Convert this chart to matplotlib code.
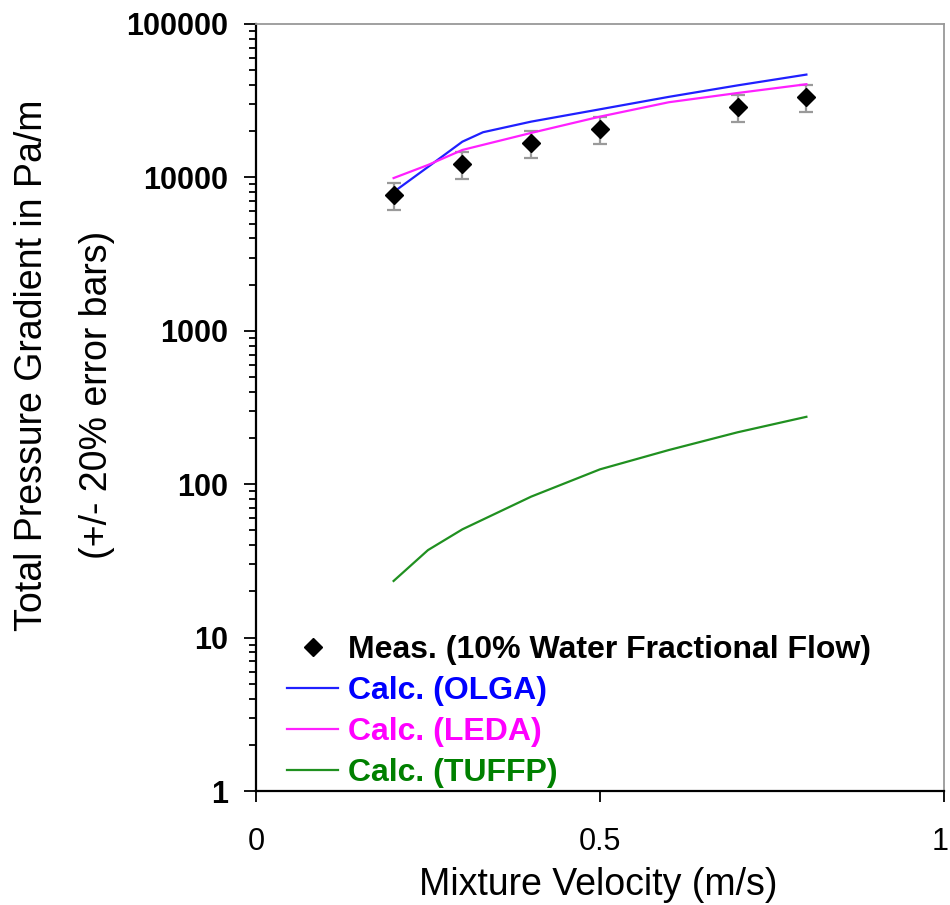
import matplotlib
matplotlib.use('Agg')
import matplotlib.pyplot as plt
import matplotlib.transforms as mtransforms
from matplotlib.ticker import LogLocator, FixedLocator, NullFormatter, FixedFormatter

plt.rcParams['font.family'] = ['Liberation Sans', 'DejaVu Sans']

# Measured data, 10% water fractional flow
v_meas = [0.2, 0.3, 0.4, 0.5, 0.7, 0.8]
dp_meas = [7680, 12200, 16800, 20700, 28900, 33600]

# Model predictions
v_olga = [0.2, 0.25, 0.3, 0.33, 0.4, 0.5, 0.6, 0.7, 0.8]
dp_olga = [8030, 11700, 17100, 19700, 23100, 27800, 33500, 39800, 46800]

v_leda = [0.2, 0.25, 0.3, 0.4, 0.5, 0.6, 0.7, 0.8]
dp_leda = [9900, 12050, 15100, 19500, 24900, 30900, 35500, 40500]

v_tuffp = [0.2, 0.25, 0.3, 0.4, 0.5, 0.6, 0.7, 0.8]
dp_tuffp = [23.4, 37.2, 50.8, 83, 125, 167, 218, 275]

xticks = [0, 0.5, 1]
xtick_labels = ['0', '0.5', '1']
yticks = [1, 10, 100, 1000, 10000, 100000]
ytick_labels = ['1', '10', '100', '1000', '10000', '100000']

W, H = 950, 905
fig = plt.figure(figsize=(W / 100, H / 100), dpi=100)
ax = fig.add_axes([256 / W, 1 - 791 / H, (944 - 256) / W, (791 - 24) / H])

err = [0.2 * d for d in dp_meas]
ax.errorbar(v_meas, dp_meas, yerr=err, fmt='none', ecolor='#9a9a9a',
            elinewidth=1.6, capsize=5, capthick=1.6, zorder=2)
ax.plot(v_meas, dp_meas, linestyle='none', marker='D', markersize=9.5,
        color='black', zorder=4, label='Meas. (10% Water Fractional Flow)')
ax.plot(v_olga, dp_olga, color='#2020ff', lw=1.6, zorder=3, label='Calc. (OLGA)')
ax.plot(v_leda, dp_leda, color='#ff20ff', lw=1.6, zorder=3, label='Calc. (LEDA)')
ax.plot(v_tuffp, dp_tuffp, color='#209020', lw=1.6, zorder=3, label='Calc. (TUFFP)')

ax.set_yscale('log')
ax.set_xlim(0, 1)
ax.set_ylim(1, 100000)

ax.xaxis.set_major_locator(FixedLocator(xticks))
ax.xaxis.set_major_formatter(FixedFormatter(xtick_labels))
ax.yaxis.set_major_locator(FixedLocator(yticks))
ax.yaxis.set_major_formatter(FixedFormatter(ytick_labels))
ax.yaxis.set_minor_locator(LogLocator(base=10, subs=range(2, 10)))
ax.yaxis.set_minor_formatter(NullFormatter())

ax.tick_params(axis='x', which='major', direction='out', length=8, width=1.3,
               pad=18, labelsize=22, colors='black')
ax.tick_params(axis='y', which='major', direction='out', length=9, width=1.3,
               pad=11, labelsize=22)
ax.tick_params(axis='y', which='minor', direction='out', length=5, width=1.3)
for lab in ax.get_yticklabels():
    lab.set_fontweight('bold')

# keep the last x tick label inside the figure edge
fig.canvas.draw()
last = ax.get_xticklabels()[-1]
last.set_transform(last.get_transform() +
                   mtransforms.ScaledTranslation(-4 / 100, 0, fig.dpi_scale_trans))

for side in ['left', 'bottom']:
    ax.spines[side].set_linewidth(1.6)
    ax.spines[side].set_color('black')
for side in ['top', 'right']:
    ax.spines[side].set_linewidth(1.3)
    ax.spines[side].set_color('#999999')

leg = ax.legend(loc='upper left', bbox_to_anchor=(0.045, 0.203), frameon=False,
                prop={'weight': 'bold', 'size': 23},
                handlelength=1.6, handletextpad=0.3, labelspacing=0.34,
                borderpad=0, borderaxespad=0)
for txt, col in zip(leg.get_texts(), ['black', '#0000ff', '#ff00ff', '#008000']):
    txt.set_color(col)

# axis titles
fig.text(42 / W, 1 - 365 / H, 'Total Pressure Gradient in Pa/m', rotation=90,
         rotation_mode='anchor', ha='center', va='baseline', fontsize=27)
fig.text(107 / W, 1 - 395 / H, '(+/- 20% error bars)', rotation=90,
         rotation_mode='anchor', ha='center', va='baseline', fontsize=27)
fig.text(598 / W, 1 - 895 / H, 'Mixture Velocity (m/s)', ha='center',
         va='baseline', fontsize=27)

fig.savefig('out.png', dpi=100)
